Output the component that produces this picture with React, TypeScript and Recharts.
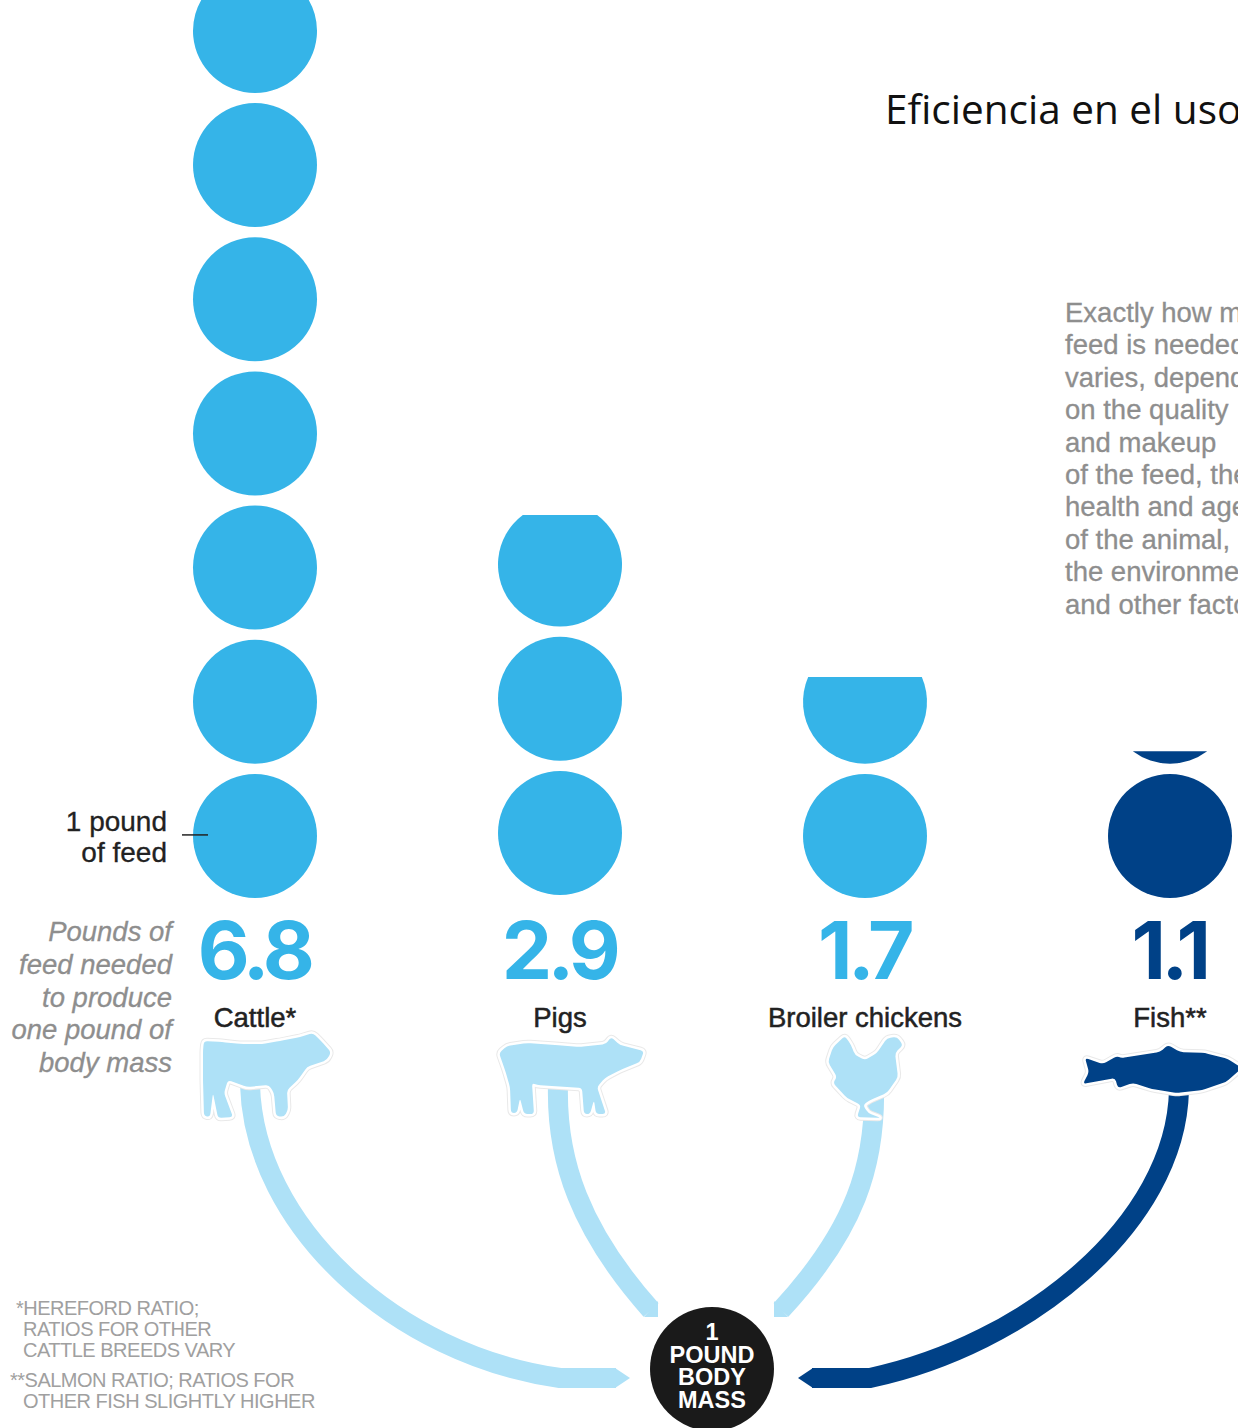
import { Scatter, ScatterChart, XAxis, YAxis } from 'recharts'

const CATEGORIES = ['Cattle*', 'Pigs', 'Broiler chickens', 'Fish**']
const FEED_POUNDS = [6.8, 2.9, 1.7, 1.1]

const SIDE_NOTE = [
  'Exactly how much',
  'feed is needed',
  'varies, depending',
  'on the quality',
  'and makeup',
  'of the feed, the',
  'health and age',
  'of the animal,',
  'the environment',
  'and other factors',
]
const AXIS_NOTE = ['Pounds of', 'feed needed', 'to produce', 'one pound of', 'body mass']
const FOOTNOTES = [
  '*HEREFORD RATIO;',
  'RATIOS FOR OTHER',
  'CATTLE BREEDS VARY',
  '**SALMON RATIO; RATIOS FOR',
  'OTHER FISH SLIGHTLY HIGHER',
]
const BODY_MASS = ['1', 'POUND', 'BODY', 'MASS']

const WIDTH = 1238
const HEIGHT = 1428
const SKY = '#35b4e8'
const PALE = '#aee1f7'
const NAVY = '#004187'
const INK = '#222222'
const GREY = '#8e8e8e'
const RADIUS = 62

// one pound sits at 134px on the stack, categories are 305px apart
const UNIT_PX = 134.17
const COLUMN_PX = 305
const FIRST_COLUMN = 255
const BASELINE = 903

const xDomain = [-FIRST_COLUMN / COLUMN_PX, (WIDTH - FIRST_COLUMN) / COLUMN_PX]
const yDomain = [(BASELINE - HEIGHT) / UNIT_PX, BASELINE / UNIT_PX]

const isFish = (name: string) => name.startsWith('Fish')

interface Disc {
  x: number
  y: number
  share: number
  name: string
}

function buildDiscs(): Disc[] {
  const discs: Disc[] = []
  CATEGORIES.forEach((name, x) => {
    const pounds = FEED_POUNDS[x]
    for (let i = 0; i < pounds; i++) {
      discs.push({ x, y: i + 0.5, share: Math.min(1, pounds - i), name })
    }
  })
  return discs
}

const summary = CATEGORIES.map((name, x) => ({ x, y: 0, name, pounds: FEED_POUNDS[x] }))
const poundKey = [{ x: 0, y: 0.5 }]

// A whole disc, or the bottom part of one for the leftover fraction
function DiscShape(props: any) {
  const { cx, cy, payload } = props
  const fill = isFish(payload.name) ? NAVY : SKY
  const y0 = payload.name === 'Pigs' ? cy - 3 : cy
  if (payload.share >= 1) return <circle cx={cx} cy={y0} r={RADIUS} fill={fill} />
  const chord = y0 + RADIUS - 2 * RADIUS * payload.share
  const half = Math.sqrt(RADIUS * RADIUS - (chord - y0) * (chord - y0))
  const large = payload.share > 0.5 ? 1 : 0
  return (
    <path
      d={`M${cx - half} ${chord}A${RADIUS} ${RADIUS} 0 ${large} 0 ${cx + half} ${chord}Z`}
      fill={fill}
    />
  )
}

function SummaryShape(props: any) {
  const { cx, cy, payload } = props
  return (
    <g textAnchor="middle">
      <text
        x={cx - 1}
        y={cy + 76}
        fontFamily="Inter"
        fontSize={80}
        fontWeight={700}
        letterSpacing={-4.5}
        fill={isFish(payload.name) ? NAVY : SKY}
      >
        {payload.pounds.toFixed(1)}
      </text>
      <text
        x={cx}
        y={cy + 124}
        fontFamily="Liberation Sans"
        fontSize={27.5}
        fill={INK}
        stroke={INK}
        strokeWidth={0.5}
      >
        {payload.name}
      </text>
    </g>
  )
}

// Key for the first disc, with its tick lying over the disc edge
function PoundKeyShape(props: any) {
  const { cx, cy } = props
  return (
    <g>
      <g
        fontFamily="Liberation Sans"
        fontSize={28}
        fill={INK}
        stroke={INK}
        strokeWidth={0.3}
        textAnchor="end"
      >
        <text x={cx - 88} y={cy - 5}>1 pound</text>
        <text x={cx - 88} y={cy + 26}>of feed</text>
      </g>
      <line x1={cx - 73} x2={cx - 47} y1={cy - 1} y2={cy - 1} stroke={INK} strokeWidth={1.5} />
    </g>
  )
}

function Ribbon({ d, color, tip }: { d: string; color: string; tip: string }) {
  return (
    <g>
      <path d={d} fill="none" stroke={color} strokeWidth={20} />
      <path d={tip} fill={color} />
    </g>
  )
}

// Closes a traced outline, rounding each corner a little
function outline(pts: number[][]): string {
  const cut = (a: number[], b: number[]) => {
    const len = Math.hypot(b[0] - a[0], b[1] - a[1])
    const t = Math.min(3.5, len / 2) / len
    return `${a[0] + (b[0] - a[0]) * t} ${a[1] + (b[1] - a[1]) * t}`
  }
  let d = ''
  pts.forEach((p, i) => {
    const prev = pts[(i + pts.length - 1) % pts.length]
    const next = pts[(i + 1) % pts.length]
    d += `${i === 0 ? 'M' : 'L'}${cut(p, prev)}Q${p[0]} ${p[1]} ${cut(p, next)}`
  })
  return d + 'Z'
}

const COW = [
  [204, 1041], [222, 1042], [240, 1044], [262, 1044], [280, 1041], [300, 1037], [313, 1033],
  [321, 1041], [331, 1052], [327, 1060], [307, 1067], [298, 1080], [287, 1090], [288, 1110],
  [284, 1117], [276, 1116], [274, 1093], [269, 1085], [247, 1087], [228, 1080], [224, 1093],
  [233, 1117], [218, 1118], [213, 1093], [210, 1117], [204, 1116], [203, 1080], [203, 1050],
]
const PIG = [
  [499, 1053], [507, 1046], [527, 1043], [555, 1045], [580, 1047], [606, 1044], [611, 1037],
  [620, 1045], [644, 1051], [640, 1062], [620, 1070], [605, 1078], [597, 1087], [606, 1114],
  [596, 1114], [594, 1100], [590, 1114], [584, 1114], [582, 1088], [537, 1085], [532, 1083],
  [534, 1114], [524, 1114], [520, 1098], [517, 1113], [511, 1113], [510, 1087], [505, 1070],
]
const HEN = [
  [845, 1036], [851, 1045], [855, 1055], [865, 1060], [877, 1053], [887, 1038], [897, 1037],
  [903, 1045], [895, 1053], [898, 1077], [887, 1093], [870, 1100], [863, 1105], [868, 1113],
  [881, 1118], [857, 1117], [861, 1105], [847, 1098], [833, 1083], [837, 1077], [828, 1062],
  [833, 1047],
]
const FISH = [
  [1085, 1058], [1103, 1064], [1117, 1056], [1121, 1058], [1160, 1052], [1168, 1045],
  [1180, 1052], [1205, 1053], [1228, 1059], [1242, 1068], [1226, 1082], [1202, 1090],
  [1177, 1093], [1152, 1089], [1133, 1083], [1118, 1088], [1115, 1078], [1083, 1084],
  [1089, 1072],
]

function Silhouette({ pts, color }: { pts: number[][]; color: string }) {
  const d = outline(pts)
  return (
    <g strokeLinejoin="round">
      <path d={d} fill="#fff" stroke="#e9e9e9" strokeWidth={7} />
      <path d={d} fill="#fff" stroke="#fff" strokeWidth={5} />
      <path d={d} fill={color} />
    </g>
  )
}

export default function App() {
  return (
    <div
      style={{
        position: 'absolute',
        top: 0,
        left: 0,
        width: WIDTH,
        height: HEIGHT,
        overflow: 'hidden',
        background: '#fff',
      }}
    >
      <ScatterChart width={WIDTH} height={HEIGHT} margin={{ top: 0, right: 0, bottom: 0, left: 0 }}>
        <XAxis type="number" dataKey="x" domain={xDomain} hide allowDataOverflow />
        <YAxis type="number" dataKey="y" domain={yDomain} hide allowDataOverflow />

        {/* arrows running from the body mass disc up to each animal */}
        <Ribbon
          color={PALE}
          d="M250 1085C254 1225 395 1355 560 1378L616 1378"
          tip="M615 1368L630 1378L615 1388Z"
        />
        <Ribbon
          color={PALE}
          d="M558 1085C556 1160 580 1230 651 1310"
          tip="M658 1301L658 1317L644 1317Z"
        />
        <Ribbon
          color={PALE}
          d="M874 1085C876 1165 855 1230 781 1310"
          tip="M774 1301L774 1317L788 1317Z"
        />
        <Ribbon
          color={NAVY}
          d="M1179 1090C1176 1225 1025 1345 870 1378L812 1378"
          tip="M813 1368L798 1378L813 1388Z"
        />

        <Silhouette pts={COW} color={PALE} />
        <Silhouette pts={PIG} color={PALE} />
        <Silhouette pts={HEN} color={PALE} />
        <Silhouette pts={FISH} color={NAVY} />

        <Scatter data={buildDiscs()} shape={DiscShape} isAnimationActive={false} />
        <Scatter data={summary} shape={SummaryShape} isAnimationActive={false} />
        <Scatter data={poundKey} shape={PoundKeyShape} isAnimationActive={false} />

        <text x={885} y={124} fontFamily="Open Sans" fontSize={40.5} fill="#111">
          Eficiencia en el uso
        </text>

        <g fontFamily="Liberation Sans" fontSize={27.5} fill={GREY} stroke={GREY} strokeWidth={0.3}>
          {SIDE_NOTE.map((line, i) => (
            <text key={line} x={1065} y={322 + i * 32.4}>
              {line}
            </text>
          ))}
        </g>

        <g
          fontFamily="Liberation Sans"
          fontSize={27.5}
          fontStyle="italic"
          fill={GREY}
          stroke={GREY}
          strokeWidth={0.3}
          textAnchor="end"
        >
          {AXIS_NOTE.map((line, i) => (
            <text key={line} x={172} y={941 + i * 32.8}>
              {line}
            </text>
          ))}
        </g>

        <g fontFamily="Liberation Sans" fontSize={20} letterSpacing={-0.5} fill="#a0a0a0">
          <text x={16} y={1315}>{FOOTNOTES[0]}</text>
          <text x={23} y={1336}>{FOOTNOTES[1]}</text>
          <text x={23} y={1357}>{FOOTNOTES[2]}</text>
          <text x={10} y={1387}>{FOOTNOTES[3]}</text>
          <text x={23} y={1408}>{FOOTNOTES[4]}</text>
        </g>

        <circle cx={712} cy={1369} r={62} fill="#1a1a1a" />
        <text
          fontFamily="Liberation Sans"
          fontSize={23.5}
          fontWeight={700}
          fill="#fff"
          textAnchor="middle"
          y={1340}
        >
          {BODY_MASS.map((line, i) => (
            <tspan key={line} x={712} y={1340 + i * 22.5}>
              {line}
            </tspan>
          ))}
        </text>
      </ScatterChart>
    </div>
  )
}
